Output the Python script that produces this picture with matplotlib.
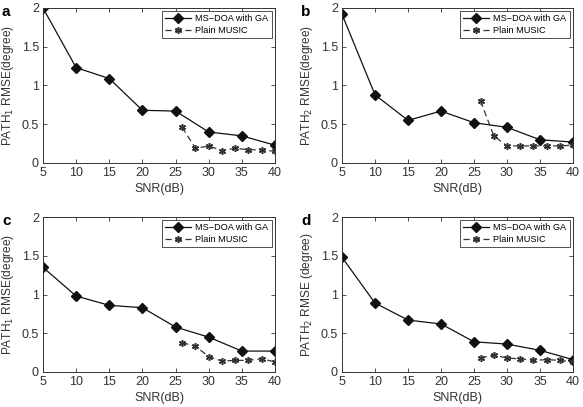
import matplotlib
matplotlib.use('Agg')
import matplotlib.pyplot as plt

plt.rcParams['font.family'] = ['Liberation Sans', 'DejaVu Sans']

# SNR values
snr_ga = [5, 10, 15, 20, 25, 30, 35, 40]
snr_music = [26, 28, 30, 32, 34, 36, 38, 40]

# RMSE values
ga_a = [2.0, 1.23, 1.09, 0.68, 0.67, 0.40, 0.35, 0.23]
music_a = [0.46, 0.19, 0.22, 0.16, 0.19, 0.17, 0.17, 0.15]
ga_b = [1.92, 0.88, 0.55, 0.67, 0.52, 0.46, 0.30, 0.27]
music_b = [0.80, 0.35, 0.22, 0.22, 0.22, 0.22, 0.22, 0.23]
ga_c = [1.35, 0.98, 0.86, 0.83, 0.58, 0.45, 0.27, 0.27]
music_c = [0.38, 0.33, 0.20, 0.14, 0.15, 0.15, 0.17, 0.13]
ga_d = [1.48, 0.89, 0.67, 0.62, 0.39, 0.36, 0.28, 0.16]
music_d = [0.18, 0.22, 0.18, 0.17, 0.15, 0.16, 0.15, 0.13]

panel_letters = ['a', 'b', 'c', 'd']
ylabels = ['PATH$_1$ RMSE(degree)', 'PATH$_2$ RMSE(degree)',
           'PATH$_1$ RMSE(degree)', 'PATH$_2$ RMSE (degree)']
ticks_x = [5, 10, 15, 20, 25, 30, 35, 40]
ticks_y = [0, 0.5, 1, 1.5, 2]
tick_labels_y = ['0', '0.5', '1', '1.5', '2']

fig = plt.figure(figsize=(5.83, 4.07), dpi=100)
W, H = 583, 407
# axes boxes in pixels: left, top, right, bottom
boxes = [(43, 8, 275, 163), (342, 8, 573, 163),
         (43, 217, 275, 372), (342, 217, 573, 372)]
ga_all = [ga_a, ga_b, ga_c, ga_d]
music_all = [music_a, music_b, music_c, music_d]

for i in range(4):
    l, t, r, b = boxes[i]
    ax = fig.add_axes([l / W, 1 - b / H, (r - l) / W, (b - t) / H])
    ax.plot(snr_ga, ga_all[i], color='#111111', lw=0.9, marker='D',
            markersize=5, label='MS\u2212DOA with GA')
    ax.plot(snr_music, music_all[i], color='#333333', lw=0.9, ls=(0, (5, 3)),
            marker=(6, 2, 0), markersize=5, markeredgewidth=1.1,
            label='Plain MUSIC')
    ax.set_xlim(5, 40)
    ax.set_ylim(0, 2)
    ax.set_xticks(ticks_x)
    ax.set_yticks(ticks_y)
    ax.set_yticklabels(tick_labels_y)
    ax.tick_params(direction='in', labelsize=9, length=3, width=0.6,
                   top=True, right=True, colors='#333333', pad=3)
    for s in ax.spines.values():
        s.set_linewidth(0.7)
        s.set_color('#333333')
    ax.set_xlabel('SNR(dB)', fontsize=9, color='#333333', labelpad=3)
    ax.set_ylabel(ylabels[i], fontsize=8.6, color='#333333', labelpad=4)
    leg = ax.legend(loc='upper right', fontsize=6.6, frameon=True,
                    fancybox=False, edgecolor='#333333', framealpha=1,
                    handlelength=2.8, borderpad=0.35, labelspacing=0.3,
                    borderaxespad=0.35, handletextpad=0.5)
    leg.get_frame().set_linewidth(0.6)
    fig.text((l - 41) / W, 1 - (t + 4) / H, panel_letters[i],
             fontsize=11, fontweight='bold', va='center', ha='left')

fig.savefig('out.png', dpi=100)
